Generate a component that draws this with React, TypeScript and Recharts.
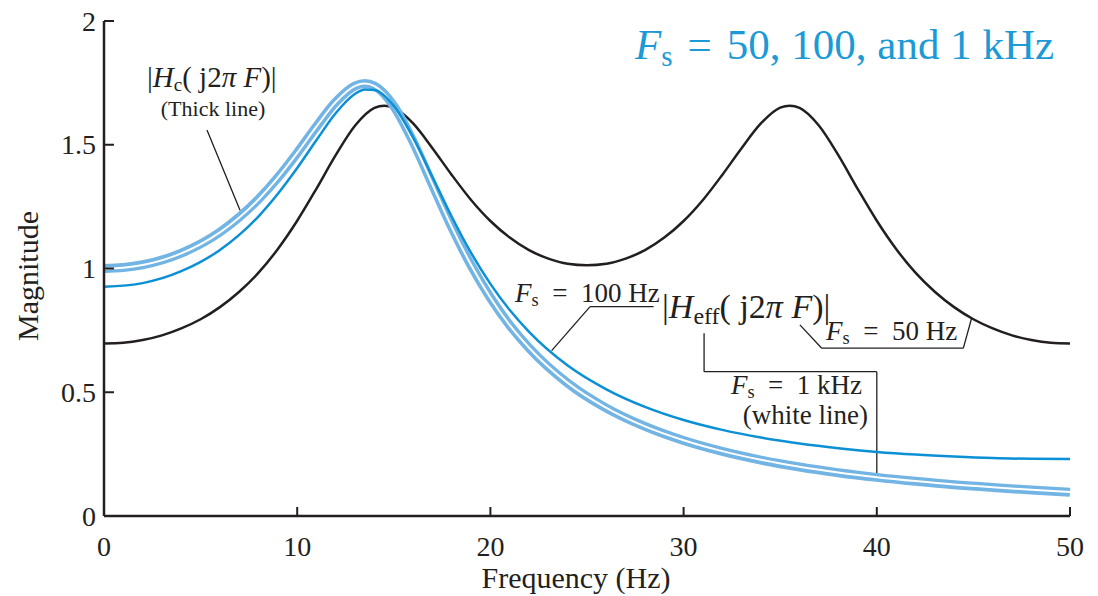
import React from "react";
import { LineChart, Line, XAxis, YAxis, ReferenceLine } from "recharts";

const INK = "#231f20";
const BLUE = "#0b90d5";
const LIGHT = "#72b4e4";
const TITLE_BLUE = "#1c9ad6";
const FONT = '"Liberation Serif", "DejaVu Serif", serif';
const EQ = "\u2002=\u2002";

const X_TICKS = [0, 10, 20, 30, 40, 50];
const Y_TICKS = [0, 0.5, 1, 1.5, 2];

// |Heff| for Fs = 50 Hz (black)
const FREQ_50 = [
  0, 1, 2, 3, 4, 5, 6, 7, 8, 9, 10, 11, 12, 13, 14, 14.5, 15, 16, 17, 18, 19, 20, 21, 22, 23, 24, 25,
  26, 27, 28, 29, 30, 31, 32, 33, 34, 35, 35.5, 36, 37, 38, 39, 40, 41, 42, 43, 44, 45, 46, 47, 48, 49, 50,
];
const MAG_50 = [
  0.697, 0.7, 0.711, 0.73, 0.758, 0.795, 0.844, 0.906, 0.983, 1.079, 1.193, 1.323, 1.459, 1.578, 1.649, 1.658, 1.65,
  1.586, 1.486, 1.378, 1.277, 1.192, 1.125, 1.074, 1.04, 1.019, 1.013, 1.019, 1.04, 1.074, 1.125, 1.192, 1.277,
  1.378, 1.486, 1.586, 1.65, 1.658, 1.649, 1.578, 1.459, 1.323, 1.193, 1.079, 0.983, 0.906, 0.844, 0.795, 0.758,
  0.73, 0.711, 0.7, 0.697,
];

// |Heff| for Fs = 100 Hz (thin blue)
const FREQ_100 = [
  0, 2, 4, 6, 8, 9, 10, 11, 12, 13, 13.5, 14, 15, 16, 17, 18, 19, 20, 21, 22, 24, 26, 28, 30, 32, 34, 36, 38, 40,
  42, 44, 46, 48, 50,
];
const MAG_100 = [
  0.926, 0.941, 0.989, 1.075, 1.211, 1.302, 1.406, 1.519, 1.628, 1.706, 1.723, 1.721, 1.657, 1.529, 1.37, 1.209,
  1.063, 0.938, 0.832, 0.744, 0.608, 0.512, 0.441, 0.388, 0.348, 0.317, 0.293, 0.274, 0.259, 0.248, 0.24, 0.234,
  0.231, 0.23,
];

// |Hc| (thick line) and Fs = 1 kHz (white line)
const FREQ_C = [
  0, 1, 2, 4, 6, 8, 9, 10, 11, 12, 13, 13.5, 14, 15, 16, 17, 18, 19, 20, 21, 22, 24, 26, 28, 30, 32, 34, 36, 38,
  40, 42, 44, 46, 48, 50,
];
const MAG_C = [
  1.0, 1.004, 1.015, 1.062, 1.147, 1.28, 1.367, 1.467, 1.574, 1.673, 1.738, 1.747, 1.737, 1.656, 1.512, 1.339,
  1.167, 1.013, 0.882, 0.771, 0.679, 0.537, 0.436, 0.362, 0.305, 0.261, 0.226, 0.198, 0.175, 0.156, 0.14, 0.126,
  0.115, 0.105, 0.096,
];
const MAG_1K = [
  0.999, 1.003, 1.014, 1.061, 1.146, 1.279, 1.367, 1.467, 1.574, 1.673, 1.738, 1.747, 1.737, 1.656, 1.512, 1.339,
  1.167, 1.014, 0.882, 0.771, 0.68, 0.538, 0.437, 0.362, 0.306, 0.262, 0.227, 0.199, 0.176, 0.157, 0.141, 0.127,
  0.116, 0.106, 0.097,
];

// annotation leader lines, in data units
const LEADERS: number[][][] = [
  [[5.33, 1.56], [7.04, 1.235]],
  [[23.17, 0.668], [25.16, 0.846], [28.45, 0.846]],
  [[36.02, 0.772], [37.15, 0.678], [44.48, 0.678], [44.91, 0.8]],
  [[31.06, 0.738], [31.06, 0.583], [40.0, 0.583], [40.0, 0.165]],
];

const toPoints = (f: number[], m: number[]) => f.map((x, i) => ({ f: x, m: m[i] }));

const XTick = (props: any) => {
  const { x, y, payload } = props;
  return (
    <g>
      <line x1={x} y1={y} x2={x} y2={y - 9} stroke={INK} strokeWidth={2} />
      <text x={x} y={y + 40} textAnchor="middle" fontSize={28} fill={INK} fontFamily={FONT}>
        {payload.value}
      </text>
    </g>
  );
};

const YTick = (props: any) => {
  const { x, y, payload } = props;
  return (
    <g>
      <line x1={x} y1={y} x2={x + 10} y2={y} stroke={INK} strokeWidth={2} />
      <text x={x - 8} y={y} dy="0.34em" textAnchor="end" fontSize={28} fill={INK} fontFamily={FONT}>
        {payload.value}
      </text>
    </g>
  );
};

// "Fs = ..." label with upright subscript
const FsLabel = ({ x, y, rest, size = 27, anchor = "start" }: any) => (
  <text x={x} y={y} fontSize={size} fill={INK} textAnchor={anchor}>
    <tspan fontStyle="italic">F</tspan>
    <tspan fontSize={size * 0.68} dy={4}>s</tspan>
    <tspan dy={-4}>{EQ + rest}</tspan>
  </text>
);

export default function App() {
  const leaderSegs: any[] = [];
  LEADERS.forEach((pts, i) => {
    for (let k = 0; k < pts.length - 1; k++) {
      leaderSegs.push(
        <ReferenceLine
          key={`ld-${i}-${k}`}
          segment={[
            { x: pts[k][0], y: pts[k][1] },
            { x: pts[k + 1][0], y: pts[k + 1][1] },
          ]}
          stroke={INK}
          strokeWidth={1.3}
          ifOverflow="visible"
        />
      );
    }
  });

  return (
    <div style={{ position: "absolute", left: 0, top: 0, width: 1098, height: 596, background: "#fff" }}>
      <LineChart width={1098} height={596} margin={{ top: 21, right: 28, bottom: 20, left: 0 }}>
        <XAxis
          type="number"
          dataKey="f"
          domain={[0, 50]}
          ticks={X_TICKS}
          interval={0}
          height={60}
          tickSize={0}
          tickMargin={0}
          tickLine={false}
          tick={<XTick />}
          axisLine={{ stroke: INK, strokeWidth: 2.5 }}
        />
        <YAxis
          type="number"
          domain={[0, 2]}
          ticks={Y_TICKS}
          interval={0}
          width={104}
          tickSize={0}
          tickMargin={0}
          tickLine={false}
          tick={<YTick />}
          axisLine={{ stroke: INK, strokeWidth: 2.5 }}
        />
        {leaderSegs}
        <Line
          data={toPoints(FREQ_50, MAG_50)}
          dataKey="m"
          type="monotone"
          stroke={INK}
          strokeWidth={2.5}
          dot={false}
          activeDot={false}
          isAnimationActive={false}
        />
        <Line
          data={toPoints(FREQ_C, MAG_C)}
          dataKey="m"
          type="monotone"
          stroke={LIGHT}
          strokeWidth={9}
          dot={false}
          activeDot={false}
          isAnimationActive={false}
        />
        <Line
          data={toPoints(FREQ_C, MAG_1K)}
          dataKey="m"
          type="monotone"
          stroke="#ffffff"
          strokeWidth={2}
          dot={false}
          activeDot={false}
          isAnimationActive={false}
        />
        <Line
          data={toPoints(FREQ_100, MAG_100)}
          dataKey="m"
          type="monotone"
          stroke={BLUE}
          strokeWidth={2.5}
          dot={false}
          activeDot={false}
          isAnimationActive={false}
        />
      </LineChart>
      <svg
        width={1098}
        height={596}
        style={{ position: "absolute", left: 0, top: 0, pointerEvents: "none" }}
        fontFamily={FONT}
      >
        <text x={635} y={59} fontSize={43} fill={TITLE_BLUE}>
          <tspan fontStyle="italic">F</tspan>
          <tspan fontSize={29} dy={7}>s</tspan>
          <tspan dy={-7} dx={15}>=</tspan>
          <tspan dx={15}>50, 100, and 1 kHz</tspan>
        </text>
        <text x={38} y={276} fontSize={30} fill={INK} textAnchor="middle" transform="rotate(-90 38 276)">
          Magnitude
        </text>
        <text x={576} y={588} fontSize={30} fill={INK} textAnchor="middle">
          Frequency (Hz)
        </text>
        <text x={147} y={87} fontSize={29} fill={INK}>
          |<tspan fontStyle="italic">H</tspan>
          <tspan fontSize={19} dy={4}>c</tspan>
          <tspan dy={-4}>( j2</tspan>
          <tspan fontStyle="italic">π F</tspan>)|
        </text>
        <text x={213} y={116} fontSize={22} fill={INK} textAnchor="middle">
          (Thick line)
        </text>
        <FsLabel x={515} y={302} rest="100 Hz" />
        <text x={662} y={318} fontSize={34} fill={INK}>
          |<tspan fontStyle="italic">H</tspan>
          <tspan fontSize={24} dy={6}>eff</tspan>
          <tspan dy={-6}>( j2</tspan>
          <tspan fontStyle="italic">π F</tspan>)|
        </text>
        <FsLabel x={826} y={340} rest="50 Hz" />
        <FsLabel x={862} y={394} rest="1 kHz" anchor="end" />
        <text x={868} y={424} fontSize={27} fill={INK} textAnchor="end">
          (white line)
        </text>
      </svg>
    </div>
  );
}
